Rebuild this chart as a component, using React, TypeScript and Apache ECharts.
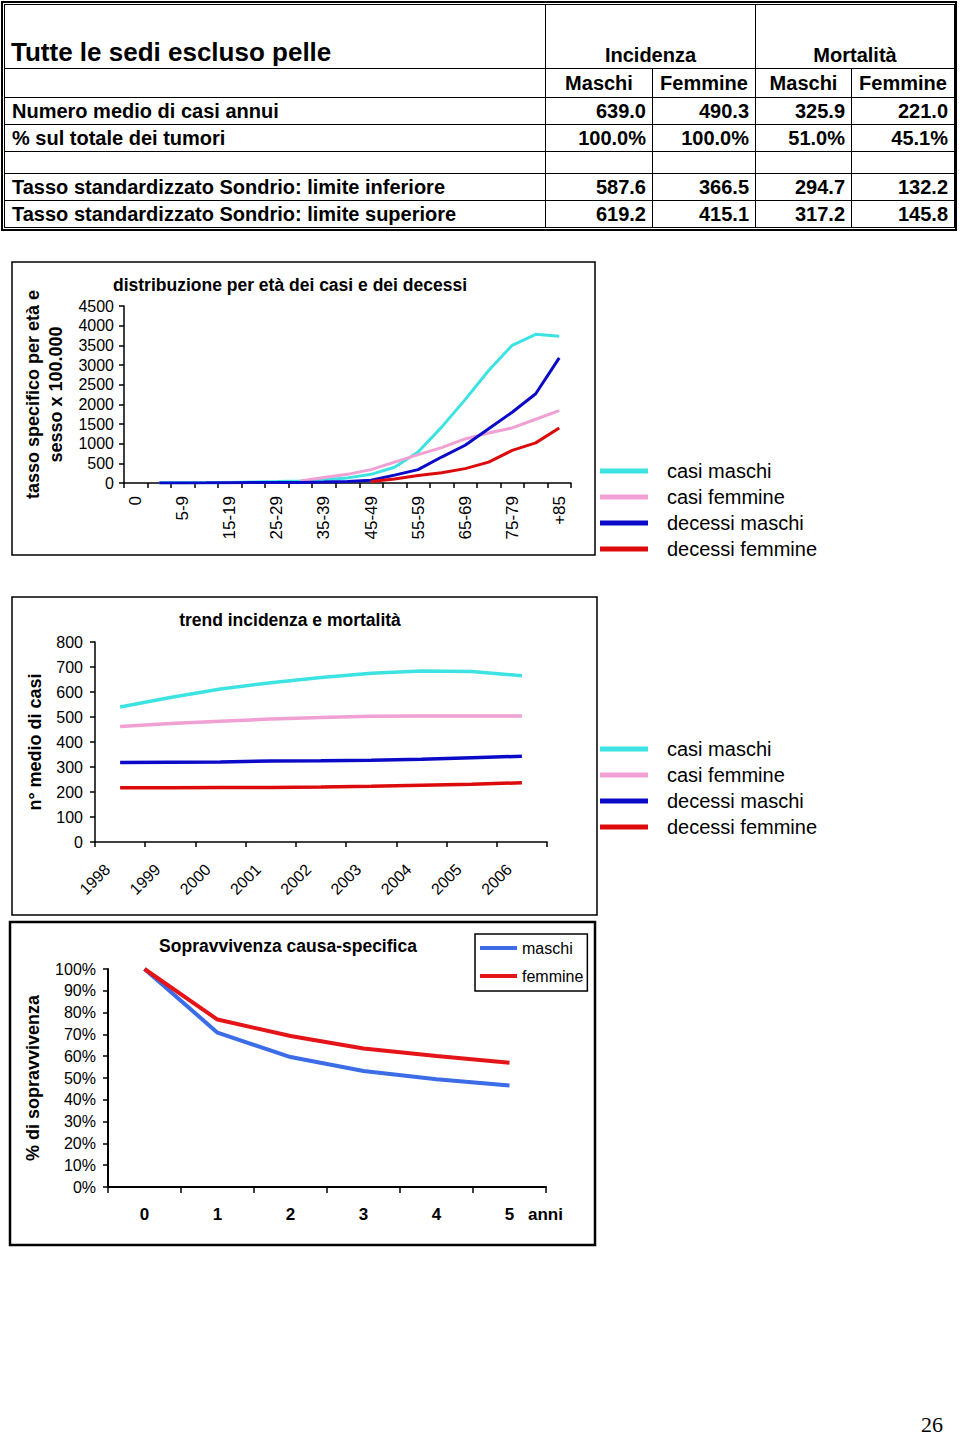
import React, { useEffect, useRef } from 'react';
import * as echarts from 'echarts';

const FONT = '"Liberation Sans", Arial, Helvetica, sans-serif';

// ---------- Table data ----------
const tableTitle = 'Tutte le sedi escluso pelle';
const groupHeaders = ['Incidenza', 'Mortalità'];
const subHeaders = ['Maschi', 'Femmine', 'Maschi', 'Femmine'];
const rowLabels = [
  'Numero medio di casi annui',
  '% sul totale dei tumori',
  '',
  'Tasso standardizzato Sondrio: limite inferiore',
  'Tasso standardizzato Sondrio: limite superiore',
];
const meanCases = [639.0, 490.3, 325.9, 221.0];
const pctOfTotal = [100.0, 100.0, 51.0, 45.1];
const lowerLimit = [587.6, 366.5, 294.7, 132.2];
const upperLimit = [619.2, 415.1, 317.2, 145.8];

// ---------- Chart 1: age distribution ----------
const ageTitle = 'distribuzione per età dei casi e dei decessi';
const ageClasses = ['0', '1-4', '5-9', '10-14', '15-19', '20-24', '25-29', '30-34', '35-39', '40-44', '45-49', '50-54', '55-59', '60-64', '65-69', '70-74', '75-79', '80-84', '+85'];
const ageCasiMaschi = [null, 4, 5, 8, 15, 25, 35, 50, 80, 130, 220, 400, 790, 1420, 2120, 2860, 3500, 3780, 3730];
const ageCasiFemmine = [null, null, null, null, null, null, null, 50, 140, 220, 340, 530, 720, 900, 1120, 1270, 1400, 1620, 1840];
const ageDecessiMaschi = [null, 3, 3, 5, 8, 10, 12, 15, 25, 40, 70, 200, 340, 660, 960, 1380, 1800, 2270, 3180];
const ageDecessiFemmine = [null, null, null, null, null, null, null, null, null, null, 40, 100, 190, 260, 365, 530, 830, 1020, 1400];

// ---------- Chart 2: trend ----------
const trendTitle = 'trend incidenza e mortalità';
const years = ['1998', '1999', '2000', '2001', '2002', '2003', '2004', '2005', '2006'];
const trendCasiMaschi = [540, 578, 612, 637, 658, 675, 684, 682, 665];
const trendCasiFemmine = [462, 474, 483, 492, 498, 503, 504, 504, 504];
const trendDecessiMaschi = [318, 319, 320, 324, 325, 327, 331, 337, 343];
const trendDecessiFemmine = [217, 217, 218, 218, 220, 223, 227, 231, 237];

// ---------- Chart 3: survival ----------
const survTitle = 'Sopravvivenza causa-specifica';
const survYears = ['0', '1', '2', '3', '4', '5'];
const survMaschi = [100, 70.8, 59.6, 53.2, 49.4, 46.6];
const survFemmine = [100, 76.8, 69.3, 63.5, 60.1, 57.0];

const seriesNames = ['casi maschi', 'casi femmine', 'decessi maschi', 'decessi femmine'];
const COL_CYAN = '#3DE3E3';
const COL_PINK = '#F0A0D2';
const COL_BLUE = '#0A0AC8';
const COL_RED = '#DC0A0A';
const COL_S_BLUE = '#3C6CE6';
const COL_S_RED = '#E41419';

const axisLine = { show: true, lineStyle: { color: '#000', width: 1.5 } };
const axisTick = { show: true, length: 5, lineStyle: { color: '#000', width: 1.5 } };
const tickLabel = { color: '#000', fontSize: 16, fontFamily: FONT };
const nameStyle = { color: '#000', fontSize: 18, fontWeight: 'bold', fontFamily: FONT, lineHeight: 23 };
const plainNumber = (v: number) => String(v);

function lineSeries(name: string, data: (number | null)[], color: string, idx: number, width: number) {
  return {
    type: 'line',
    name,
    data,
    xAxisIndex: idx,
    yAxisIndex: idx,
    color,
    showSymbol: false,
    symbol: 'none',
    lineStyle: { color, width },
    emphasis: { disabled: true },
  };
}

function buildOption() {
  const colors1 = [COL_CYAN, COL_PINK, COL_BLUE, COL_RED];
  const ageData = [ageCasiMaschi, ageCasiFemmine, ageDecessiMaschi, ageDecessiFemmine];
  const trendData = [trendCasiMaschi, trendCasiFemmine, trendDecessiMaschi, trendDecessiFemmine];
  const series: any[] = [];
  seriesNames.forEach((n, i) => series.push(lineSeries(n, ageData[i], colors1[i], 0, 3)));
  seriesNames.forEach((n, i) => series.push(lineSeries(n, trendData[i], colors1[i], 1, 3.5)));
  series.push(lineSeries('maschi', survMaschi, COL_S_BLUE, 2, 4));
  series.push(lineSeries('femmine', survFemmine, COL_S_RED, 2, 4));

  const titleText = (text: string, x: number, y: number) => ({
    type: 'text',
    x,
    y,
    silent: true,
    style: { text, fill: '#000', fontSize: 17.5, fontWeight: 'bold', fontFamily: FONT, align: 'center', verticalAlign: 'middle' },
  });

  return {
    animation: false,
    textStyle: { fontFamily: FONT },
    grid: [
      { left: 124, top: 306, width: 447, height: 177 },
      { left: 95, top: 642, width: 452, height: 200 },
      { left: 108, top: 969, width: 438, height: 218 },
    ],
    xAxis: [
      {
        type: 'category',
        gridIndex: 0,
        data: ageClasses,
        boundaryGap: true,
        axisLine,
        axisTick: { ...axisTick, interval: 0 },
        axisLabel: { ...tickLabel, fontSize: 17, interval: 1, rotate: 90, margin: 13 },
        splitLine: { show: false },
      },
      {
        type: 'category',
        gridIndex: 1,
        data: years,
        boundaryGap: true,
        axisLine,
        axisTick: { ...axisTick, interval: 0 },
        axisLabel: { ...tickLabel, interval: 0, rotate: 45, margin: 12, padding: [0, 18, 0, 0] },
        splitLine: { show: false },
      },
      {
        type: 'category',
        gridIndex: 2,
        data: survYears,
        boundaryGap: true,
        axisLine: { show: true, lineStyle: { color: '#000', width: 2 } },
        axisTick: { ...axisTick, length: 6, interval: 0 },
        axisLabel: { color: '#000', fontSize: 17, fontWeight: 'bold', fontFamily: FONT, margin: 19 },
        splitLine: { show: false },
      },
    ],
    yAxis: [
      {
        type: 'value',
        gridIndex: 0,
        min: 0,
        max: 4500,
        interval: 500,
        axisLine,
        axisTick,
        axisLabel: { ...tickLabel, margin: 10, formatter: plainNumber },
        splitLine: { show: false },
        name: 'tasso specifico per età e\nsesso x 100.000',
        nameLocation: 'middle',
        nameGap: 57,
        nameTextStyle: nameStyle,
      },
      {
        type: 'value',
        gridIndex: 1,
        min: 0,
        max: 800,
        interval: 100,
        axisLine,
        axisTick,
        axisLabel: { ...tickLabel, margin: 12, formatter: plainNumber },
        splitLine: { show: false },
        name: 'n° medio di casi',
        nameLocation: 'middle',
        nameGap: 49,
        nameTextStyle: nameStyle,
      },
      {
        type: 'value',
        gridIndex: 2,
        min: 0,
        max: 100,
        interval: 10,
        axisLine: { show: true, lineStyle: { color: '#000', width: 2 } },
        axisTick,
        axisLabel: { ...tickLabel, margin: 12, formatter: '{value}%' },
        splitLine: { show: false },
        name: '% di sopravvivenza',
        nameLocation: 'middle',
        nameGap: 64,
        nameTextStyle: nameStyle,
      },
    ],
    legend: [
      {
        orient: 'vertical',
        left: 600,
        top: 461,
        padding: 0,
        itemWidth: 48,
        itemHeight: 5,
        itemGap: 6,
        icon: 'rect',
        selectedMode: false,
        data: seriesNames,
        textStyle: { color: '#000', fontSize: 20, fontFamily: FONT, padding: [0, 0, 0, 14] },
      },
      {
        orient: 'vertical',
        left: 600,
        top: 739,
        padding: 0,
        itemWidth: 48,
        itemHeight: 5,
        itemGap: 6,
        icon: 'rect',
        selectedMode: false,
        data: seriesNames,
        textStyle: { color: '#000', fontSize: 20, fontFamily: FONT, padding: [0, 0, 0, 14] },
      },
      {
        orient: 'vertical',
        left: 475,
        top: 934,
        padding: [6, 4, 7, 5],
        itemWidth: 37,
        itemHeight: 4,
        itemGap: 12,
        icon: 'rect',
        selectedMode: false,
        borderColor: '#000',
        borderWidth: 1.5,
        backgroundColor: '#fff',
        data: ['maschi', 'femmine'],
        textStyle: { color: '#000', fontSize: 16, fontFamily: FONT },
      },
    ],
    graphic: [
      { type: 'rect', silent: true, shape: { x: 12, y: 262, width: 583, height: 293 }, style: { fill: 'none', stroke: '#000', lineWidth: 1.5 } },
      { type: 'rect', silent: true, shape: { x: 12, y: 597, width: 585, height: 318 }, style: { fill: 'none', stroke: '#000', lineWidth: 1.5 } },
      { type: 'rect', silent: true, shape: { x: 10, y: 922, width: 585, height: 323 }, style: { fill: 'none', stroke: '#000', lineWidth: 2.5 } },
      titleText(ageTitle, 290, 285),
      titleText(trendTitle, 290, 620),
      titleText(survTitle, 288, 946),
      {
        type: 'text',
        x: 528,
        y: 1214,
        silent: true,
        style: { text: 'anni', fill: '#000', fontSize: 17, fontWeight: 'bold', fontFamily: FONT, align: 'left', verticalAlign: 'middle' },
      },
      {
        type: 'text',
        x: 932,
        y: 1424,
        silent: true,
        style: { text: '26', fill: '#000', fontSize: 22, fontFamily: '"Liberation Serif", "Times New Roman", serif', align: 'center', verticalAlign: 'middle' },
      },
    ],
    series,
  };
}

const fmt = (v: number) => v.toFixed(1);
const fmtPct = (v: number) => v.toFixed(1) + '%';

function DataTable() {
  const cell: React.CSSProperties = {
    border: '1px solid #000',
    padding: '0 6px',
    whiteSpace: 'nowrap',
    overflow: 'hidden',
    lineHeight: 1,
  };
  const num: React.CSSProperties = { ...cell, textAlign: 'right' };
  const rows: string[][] = [
    meanCases.map(fmt),
    pctOfTotal.map(fmtPct),
    ['', '', '', ''],
    lowerLimit.map(fmt),
    upperLimit.map(fmt),
  ];
  const rowHeights = [27, 27, 22, 27, 27];
  return (
    <div
      style={{
        position: 'absolute',
        left: 1,
        top: 1,
        width: 956,
        height: 230,
        boxSizing: 'border-box',
        border: '2px solid #000',
        padding: 1,
        background: '#fff',
      }}
    >
      <table
        style={{
          borderCollapse: 'collapse',
          tableLayout: 'fixed',
          width: 950,
          height: 224,
          fontFamily: FONT,
          fontWeight: 'bold',
          fontSize: 20,
          color: '#000',
        }}
      >
        <colgroup>
          <col style={{ width: 541 }} />
          <col style={{ width: 107 }} />
          <col style={{ width: 103 }} />
          <col style={{ width: 96 }} />
          <col style={{ width: 103 }} />
        </colgroup>
        <tbody>
          <tr style={{ height: 64 }}>
            <td style={{ ...cell, fontSize: 26, verticalAlign: 'bottom', paddingBottom: 3, paddingLeft: 6 }}>{tableTitle}</td>
            <td colSpan={2} style={{ ...cell, textAlign: 'center', verticalAlign: 'bottom', paddingBottom: 3 }}>{groupHeaders[0]}</td>
            <td colSpan={2} style={{ ...cell, textAlign: 'center', verticalAlign: 'bottom', paddingBottom: 3 }}>{groupHeaders[1]}</td>
          </tr>
          <tr style={{ height: 29 }}>
            <td style={cell}></td>
            {subHeaders.map((h, i) => (
              <td key={i} style={{ ...cell, textAlign: 'center' }}>{h}</td>
            ))}
          </tr>
          {rows.map((r, ri) => (
            <tr key={ri} style={{ height: rowHeights[ri] }}>
              <td style={{ ...cell, paddingLeft: 7 }}>{rowLabels[ri]}</td>
              {r.map((v, ci) => (
                <td key={ci} style={num}>{v}</td>
              ))}
            </tr>
          ))}
        </tbody>
      </table>
    </div>
  );
}

export default function App() {
  const ref = useRef<HTMLDivElement>(null);
  useEffect(() => {
    if (!ref.current) return;
    const chart = echarts.init(ref.current, null, { renderer: 'svg' });
    chart.setOption(buildOption() as any);
    return () => chart.dispose();
  }, []);
  return (
    <div style={{ position: 'absolute', left: 0, top: 0, width: 960, height: 1440, background: '#fff' }}>
      <div ref={ref} style={{ position: 'absolute', left: 0, top: 0, width: 960, height: 1440 }} />
      <DataTable />
    </div>
  );
}
